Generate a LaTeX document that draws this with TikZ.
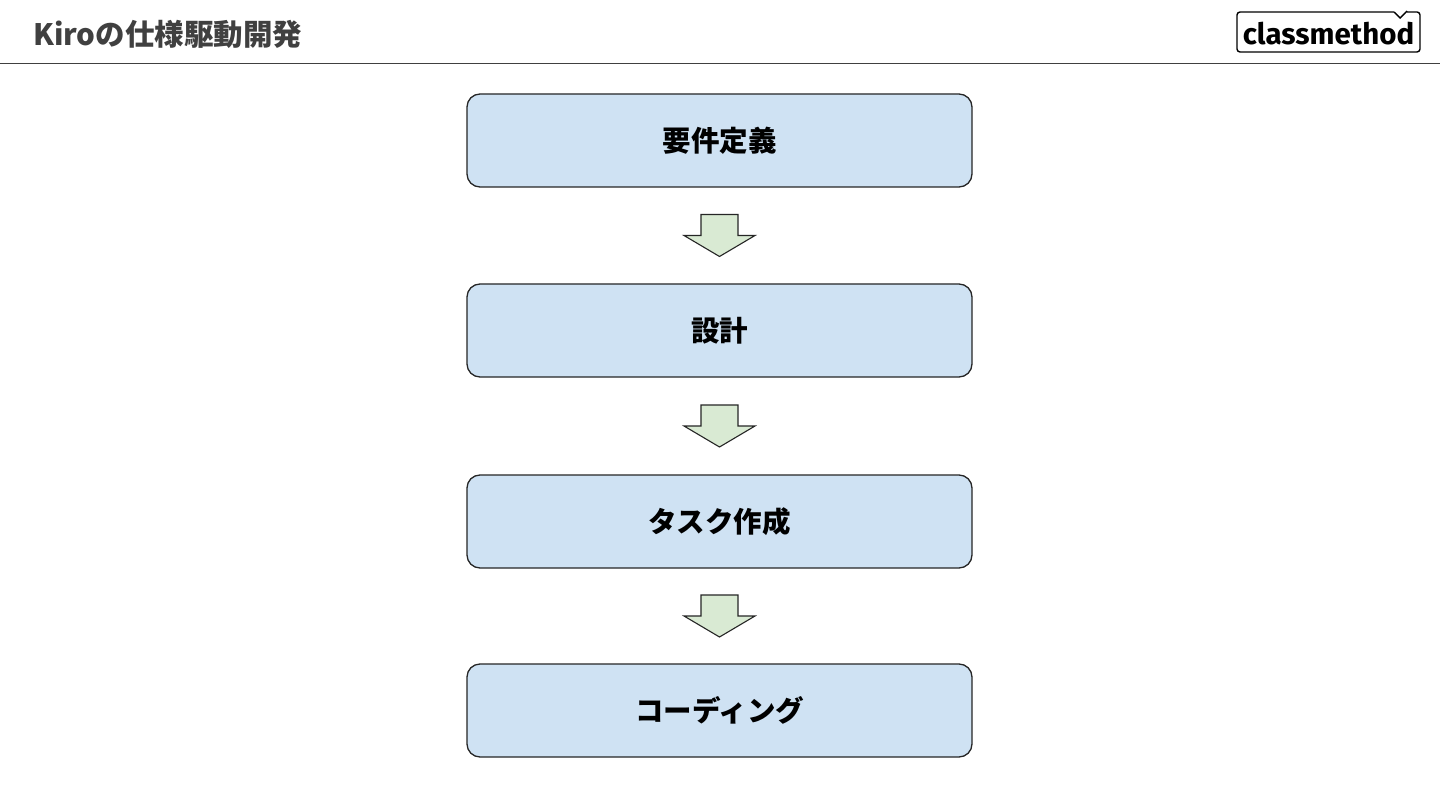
\documentclass[tikz,border=0pt]{standalone}
\usepackage{fontspec}
\usetikzlibrary{calc}
\newfontfamily\jp{Noto Sans CJK JP}
\newfontfamily\logofont{Fira Sans}
\definecolor{boxfill}{HTML}{CFE2F3}
\definecolor{arrowfill}{HTML}{D9EAD3}
\definecolor{titlegray}{HTML}{404040}
\definecolor{edge}{HTML}{262626}
\tikzset{
  stepbox/.style={draw=edge, line width=1.3pt, fill=boxfill, rounded corners=13pt,
    minimum width=505pt, minimum height=93pt, inner sep=0pt,
    font=\jp\bfseries\fontsize{28.5}{32}\selectfont, text=black},
  downarrow/.style={draw=edge, line width=1.1pt, fill=arrowfill, line join=miter},
}
\begin{document}
\begin{tikzpicture}[x=1pt,y=-1pt]
\useasboundingbox (0,0) rectangle (1440,810);
\fill[white] (0,0) rectangle (1440,810);
% title
\node[anchor=base west, inner sep=0pt, text=titlegray, font=\jp\bfseries\fontsize{29.5}{32}\selectfont] (title) at (33,46) {Kiroの仕様駆動開発};
% header rule
\coordinate (hl) at (0,63.5);
\coordinate (hr) at (1440,63.5);
\draw[titlegray, line width=1.4pt] (hl) -- (hr);
% logo
\draw[black, line width=1.4pt, rounded corners=3pt]
  (1394,12) -- (1237,12) -- (1237,52) -- (1420,52) -- (1420,12) -- (1407,12);
\draw[black, line width=1.4pt] (1394,12) -- (1400,18) -- (1407,11);
\node[inner sep=0pt, font=\logofont\bfseries\fontsize{29.5}{32}\selectfont] (logo) at (1328.5,34) {classmethod};
% boxes
\node[stepbox] (b1) at (719.5,140.5) {要件定義};
\node[stepbox] (b2) at (719.5,330.5) {設計};
\node[stepbox] (b3) at (719.5,521.5) {タスク作成};
\node[stepbox] (b4) at (719.5,710.5) {コーディング};
% block arrows between boxes
\foreach \a/\b in {b1/b2, b2/b3, b3/b4}{
  \coordinate (m) at ($(\a.south)!0.5!(\b.north)$);
  \draw[downarrow] ($(m)+(-18.5,-21)$) -- ($(m)+(18.5,-21)$) -- ($(m)+(18.5,0)$)
    -- ($(m)+(35.5,0)$) -- ($(m)+(0,21)$) -- ($(m)+(-35.5,0)$)
    -- ($(m)+(-18.5,0)$) -- cycle;
}
\end{tikzpicture}
\end{document}
